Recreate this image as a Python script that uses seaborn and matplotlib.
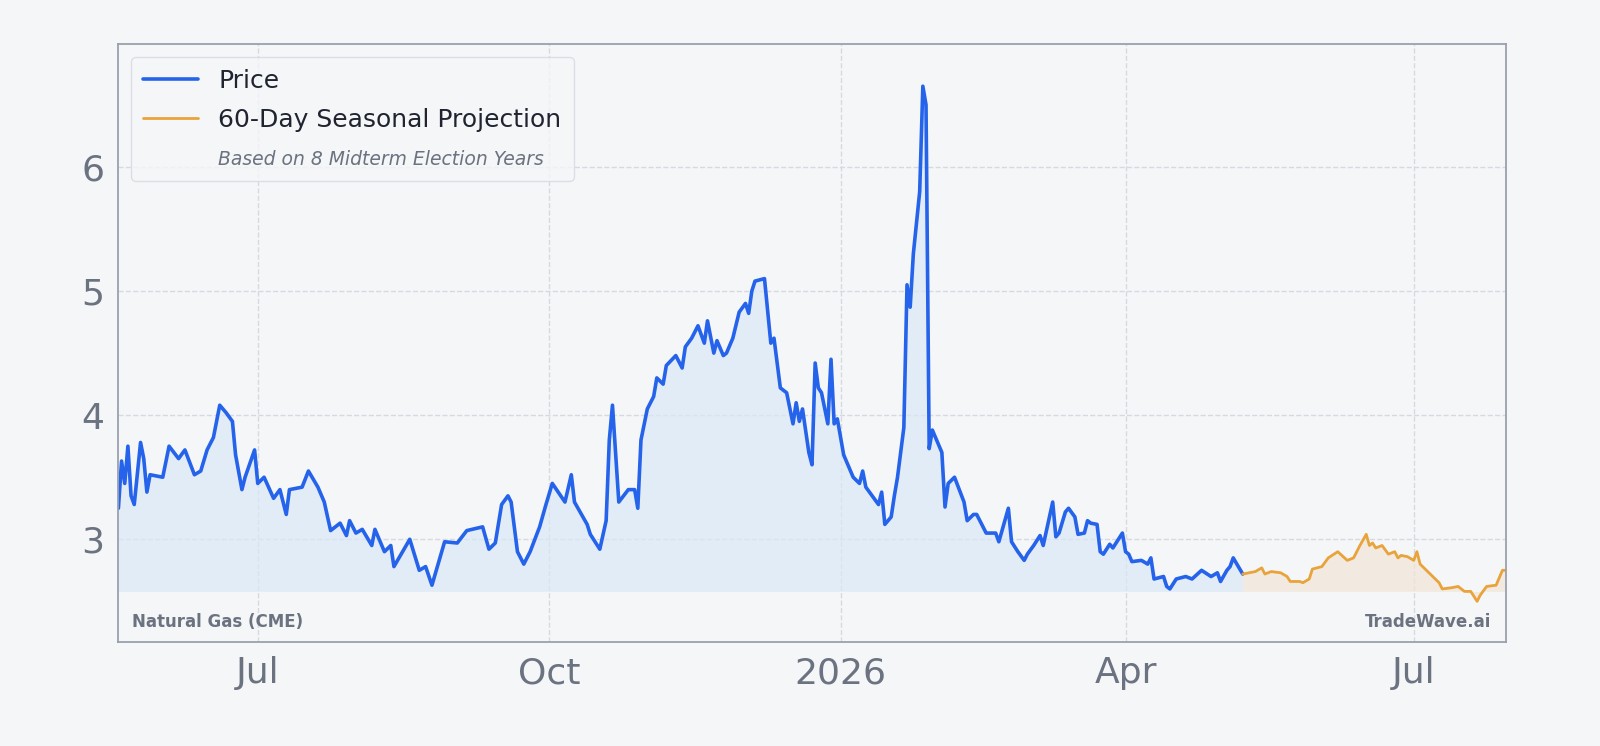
import matplotlib
matplotlib.use("Agg")
import matplotlib.pyplot as plt
import seaborn as sns
import pandas as pd
import numpy as np

# days since 2025-05-18
price_days = [0, 1, 2, 3, 4, 5, 7, 8, 9, 10, 14, 16, 19, 21, 24, 26, 28, 30, 32, 34, 36, 37, 39, 40, 43, 44, 46, 49, 51, 53,
              54, 58, 60, 63, 65, 67, 70, 72, 73, 75, 77, 80, 81, 84, 86, 87, 92, 95, 97, 99, 103, 107, 110, 115, 117, 119, 121, 123, 124, 126,
              128, 130, 133, 135, 137, 141, 143, 144, 148, 149, 152, 154, 155, 156, 158, 161, 163, 164, 165, 167, 169, 170, 172, 173, 176, 178, 179, 181, 183, 185,
              186, 188, 189, 191, 192, 194, 196, 198, 199, 200, 201, 204, 206, 207, 209, 211, 213, 214, 215, 216, 218, 219, 220, 221, 222, 224, 225, 226, 227, 229,
              232, 234, 235, 236, 238, 240, 241, 242, 244, 245, 246, 248, 249, 250, 251, 253, 254, 255, 256, 257, 260, 261, 262, 264, 267, 268, 270, 271, 274, 277,
              278, 281, 282, 284, 286, 287, 289, 291, 292, 295, 296, 297, 299, 300, 302, 303, 305, 306, 307, 309, 310, 311, 313, 314, 317, 318, 319, 320, 323, 325,
              326, 327, 330, 331, 332, 334, 337, 339, 342, 345, 347, 348, 350, 351, 352, 355]
price_vals = [3.25, 3.63, 3.45, 3.75, 3.35, 3.28, 3.78, 3.65, 3.38, 3.52, 3.5, 3.75, 3.65, 3.72, 3.52, 3.55, 3.72, 3.82, 4.08, 4.02, 3.95, 3.68, 3.4, 3.5, 3.72, 3.45, 3.5, 3.33, 3.4, 3.2,
              3.4, 3.42, 3.55, 3.42, 3.3, 3.07, 3.13, 3.03, 3.15, 3.05, 3.08, 2.95, 3.08, 2.9, 2.95, 2.78, 3.0, 2.75, 2.78, 2.63, 2.98, 2.97, 3.07, 3.1, 2.92, 2.97, 3.28, 3.35, 3.3, 2.9,
              2.8, 2.9, 3.1, 3.28, 3.45, 3.3, 3.52, 3.3, 3.12, 3.04, 2.92, 3.15, 3.8, 4.08, 3.3, 3.4, 3.4, 3.25, 3.8, 4.05, 4.15, 4.3, 4.25, 4.4, 4.48, 4.38, 4.55, 4.62, 4.72, 4.58,
              4.76, 4.5, 4.6, 4.48, 4.5, 4.62, 4.83, 4.9, 4.82, 5.0, 5.08, 5.1, 4.58, 4.62, 4.22, 4.18, 3.93, 4.1, 3.95, 4.05, 3.7, 3.6, 4.42, 4.22, 4.18, 3.93, 4.45, 3.93, 3.97, 3.68,
              3.5, 3.45, 3.55, 3.42, 3.35, 3.28, 3.38, 3.12, 3.18, 3.35, 3.5, 3.9, 5.05, 4.87, 5.3, 5.8, 6.65, 6.5, 3.73, 3.88, 3.7, 3.26, 3.45, 3.5, 3.3, 3.15, 3.2, 3.2, 3.05, 3.05,
              2.98, 3.25, 2.98, 2.9, 2.83, 2.88, 2.95, 3.03, 2.95, 3.3, 3.02, 3.05, 3.22, 3.25, 3.18, 3.04, 3.05, 3.15, 3.13, 3.12, 2.9, 2.88, 2.96, 2.93, 3.05, 2.9, 2.88, 2.82, 2.83, 2.8,
              2.85, 2.68, 2.7, 2.62, 2.6, 2.68, 2.7, 2.68, 2.75, 2.7, 2.73, 2.66, 2.75, 2.78, 2.85, 2.72]

proj_days = [355, 359, 361, 362, 364, 367, 369, 370, 373, 374, 376, 377, 380, 382, 385, 388, 390, 392, 394, 395, 396, 397, 399, 401, 403, 404, 405, 407, 409, 410,
             411, 413, 415, 417, 418, 421, 423, 425, 427, 429, 430, 432, 435, 437, 438]
proj_vals = [2.72, 2.74, 2.77, 2.72, 2.74, 2.73, 2.7, 2.66, 2.66, 2.65, 2.68, 2.76, 2.78, 2.85, 2.9, 2.83, 2.85, 2.95, 3.04, 2.95, 2.97, 2.93, 2.95, 2.88, 2.9, 2.85, 2.87, 2.86, 2.83, 2.9,
             2.8, 2.75, 2.7, 2.65, 2.6, 2.61, 2.62, 2.58, 2.58, 2.5, 2.55, 2.62, 2.63, 2.75, 2.75]

base = pd.Timestamp("2025-05-18")
price = pd.DataFrame({"date": base + pd.to_timedelta(price_days, unit="D"), "value": price_vals})
proj = pd.DataFrame({"date": base + pd.to_timedelta(proj_days, unit="D"), "value": proj_vals})

bg = "#f5f6f8"
sns.set_theme(style="white")
plt.rcParams["font.family"] = ["DejaVu Sans"]
fig, ax = plt.subplots(figsize=(16, 7.46), dpi=100)
fig.patch.set_facecolor(bg)
ax.set_facecolor(bg)
fig.subplots_adjust(left=0.074, right=0.941, top=0.941, bottom=0.139)

floor = 2.58
ax.fill_between(price["date"], floor, price["value"], color="#dbe8f7", alpha=0.7, lw=0)
ax.fill_between(proj["date"], floor, proj["value"], color="#f1e6d8", alpha=0.7, lw=0)
sns.lineplot(data=price, x="date", y="value", ax=ax, color="#2563eb", lw=2.6, label="Price")
sns.lineplot(data=proj, x="date", y="value", ax=ax, color="#e8a33a", lw=2, label="60-Day Seasonal Projection")
ax.plot([], [], " ", label="Based on 8 Midterm Election Years")

ax.set_xlim(base, pd.Timestamp("2026-07-30"))
ax.set_ylim(2.17, 6.99)
ax.set_yticks([3, 4, 5, 6])
ticks = pd.to_datetime(["2025-07-01", "2025-10-01", "2026-01-01", "2026-04-01", "2026-07-01"])
ax.set_xticks(ticks)
ax.set_xticklabels(["Jul", "Oct", "2026", "Apr", "Jul"])
ax.tick_params(axis="both", labelsize=26, colors="#6b7280", length=0, pad=10)
ax.set_xlabel("")
ax.set_ylabel("")
ax.grid(True, ls="--", color="#d5d9e0", lw=1)
for s in ax.spines.values():
    s.set_color("#9aa0ad")
    s.set_linewidth(1.3)

leg = ax.legend(loc="upper left", fontsize=18, frameon=True, facecolor=bg, edgecolor="#d5d9e0",
                handlelength=2.2, labelspacing=0.6, borderpad=0.5)
for t in leg.get_texts():
    t.set_color("#1f2430")
note = leg.get_texts()[2]
note.set_fontstyle("italic")
note.set_fontsize(13.5)
note.set_color("#6b7280")

ax.text(0.01, 0.025, "Natural Gas (CME)", transform=ax.transAxes, fontsize=12, fontweight="bold", color="#6b7280")
ax.text(0.99, 0.025, "TradeWave.ai", transform=ax.transAxes, fontsize=12, fontweight="bold", color="#6b7280", ha="right")

fig.savefig("out.png", dpi=100, facecolor=bg)
